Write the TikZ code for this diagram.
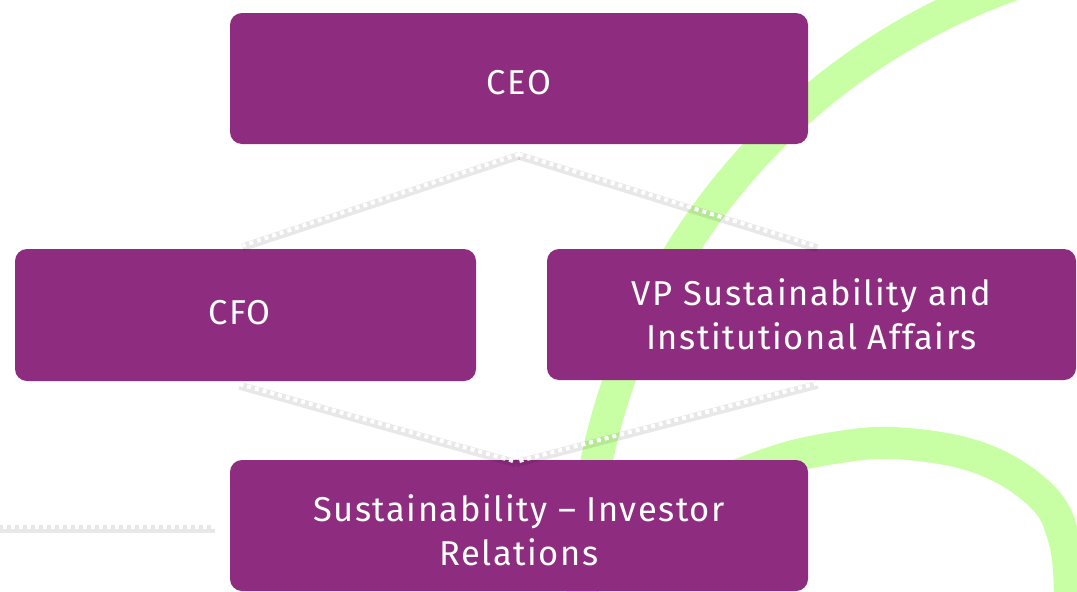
\documentclass[tikz,border=0pt]{standalone}
\usepackage{fontspec}
\setmainfont{Fira Sans}[LetterSpace=4.5]
\definecolor{boxpurple}{RGB}{142,44,128}
\definecolor{swooshgreen}{RGB}{200,255,164}
\tikzset{
  orgbox/.style={fill=boxpurple, draw=none, rounded corners=12pt, text=white,
    align=center, inner sep=0pt, font=\fontsize{34.5}{44}\selectfont},
  swoosh/.style={draw=swooshgreen, line width=32pt, line cap=butt},
  conn/.style={draw=white, line width=4pt, dash pattern=on 4pt off 4pt,
    preaction={draw=black, opacity=0.09, line width=8pt, solid,
      transform canvas={yshift=-1.5pt}}}
}
\begin{document}
\begin{tikzpicture}[x=1pt,y=-1pt]
\clip (0,0) rectangle (1077,592);
\fill[white] (0,0) rectangle (1077,592);
% green swooshes
\coordinate (c1) at (1228,593);
\draw[swoosh] ([shift={(185:645pt)}]c1) arc[start angle=185, end angle=104, radius=645pt];
\draw[swoosh] plot[smooth, tension=0.6] coordinates {(700,490) (780,460) (840,447) (893,443) (960,452) (1010,472) (1048,503) (1063,535) (1069,570) (1070,620)};
% boxes
\node[orgbox, minimum width=578pt, minimum height=131pt] (ceo) at (519,78.5) {\rule{0pt}{32pt}CEO};
\node[orgbox, minimum width=461pt, minimum height=132pt] (cfo) at (245.5,315) {\hspace*{-12pt}\rule[-5pt]{0pt}{5pt}CFO};
\node[orgbox, minimum width=529pt, minimum height=131pt] (vp) at (811.5,314.5) {VP Sustainability and\\Institutional Affairs};
\node[orgbox, minimum width=578pt, minimum height=131pt] (sir) at (519,525.5) {\rule{0pt}{37pt}Sustainability -- Investor\\Relations};
\coordinate (lend) at (-5,527);
% connectors
\draw[conn] ([yshift=-10pt]ceo.south) -- ([xshift=-3pt,yshift=3pt]cfo.north);
\draw[conn] ([yshift=-10pt]ceo.south) -- ([xshift=6pt,yshift=2pt]vp.north);
\draw[conn] ([xshift=-6pt,yshift=-3pt]cfo.south) -- ([xshift=-3pt,yshift=-2pt]sir.north);
\draw[conn] ([xshift=6pt,yshift=-3pt]vp.south) -- ([xshift=-3pt,yshift=-2pt]sir.north);
\draw[conn] ([xshift=-15pt,yshift=-1.5pt]sir.west) -- (lend);
\end{tikzpicture}
\end{document}
